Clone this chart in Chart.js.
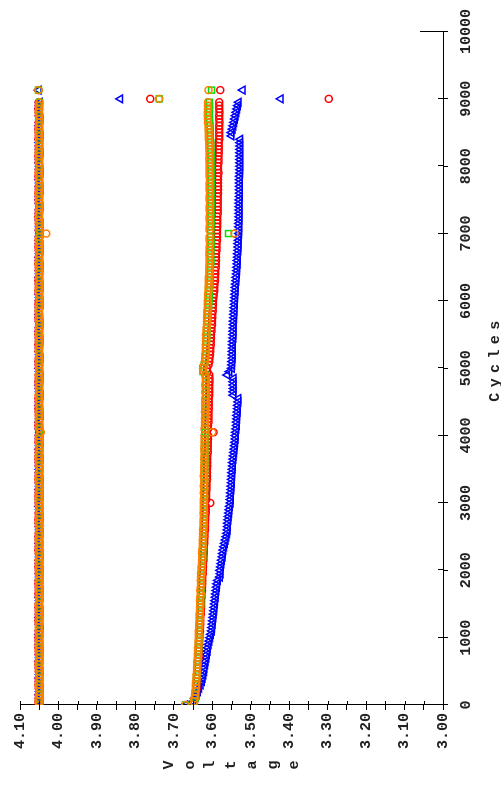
<!DOCTYPE html>
<html>
<head>
    <title>Voltage vs Cycles</title>
    <script src="https://cdn.jsdelivr.net/npm/chart.js"></script>
    <style>
        body { margin: 0; background: #fff; overflow: hidden; }
        #wrap { position: absolute; left: 0; top: 0; width: 786px; height: 501px;
                transform-origin: 0 0; transform: translate(0, 786px) rotate(-90deg); }
    </style>
</head>
<body>
<div id="wrap"><canvas id="myChart" width="786" height="501"></canvas></div>

<script>
// cycle numbers shared by all series (last one is the 9130 check)
var cycles = [
    0, 50, 100, 150, 200, 250, 300, 350, 400, 450,
    500, 550, 600, 650, 700, 750, 800, 850, 900, 950,
    1000, 1050, 1100, 1150, 1200, 1250, 1300, 1350, 1400, 1450,
    1500, 1550, 1600, 1650, 1700, 1750, 1800, 1850, 1900, 1950,
    2000, 2050, 2100, 2150, 2200, 2250, 2300, 2350, 2400, 2450,
    2500, 2550, 2600, 2650, 2700, 2750, 2800, 2850, 2900, 2950,
    3000, 3050, 3100, 3150, 3200, 3250, 3300, 3350, 3400, 3450,
    3500, 3550, 3600, 3650, 3700, 3750, 3800, 3850, 3900, 3950,
    4000, 4050, 4100, 4150, 4200, 4250, 4300, 4350, 4400, 4450,
    4500, 4550, 4600, 4650, 4700, 4750, 4800, 4850, 4900, 4950,
    5000, 5050, 5100, 5150, 5200, 5250, 5300, 5350, 5400, 5450,
    5500, 5550, 5600, 5650, 5700, 5750, 5800, 5850, 5900, 5950,
    6000, 6050, 6100, 6150, 6200, 6250, 6300, 6350, 6400, 6450,
    6500, 6550, 6600, 6650, 6700, 6750, 6800, 6850, 6900, 6950,
    7000, 7050, 7100, 7150, 7200, 7250, 7300, 7350, 7400, 7450,
    7500, 7550, 7600, 7650, 7700, 7750, 7800, 7850, 7900, 7950,
    8000, 8050, 8100, 8150, 8200, 8250, 8300, 8350, 8400, 8450,
    8500, 8550, 8600, 8650, 8700, 8750, 8800, 8850, 8900, 8950,
    9130
];

// upper (charge) voltages
var orangeTop = [
    4.050, 4.051, 4.050, 4.050, 4.049, 4.050, 4.051, 4.050, 4.049, 4.050,
    4.050, 4.050, 4.051, 4.050, 4.050, 4.049, 4.050, 4.050, 4.051, 4.050,
    4.049, 4.050, 4.050, 4.051, 4.050, 4.050, 4.049, 4.050, 4.050, 4.050,
    4.051, 4.050, 4.050, 4.049, 4.050, 4.050, 4.050, 4.051, 4.050, 4.049,
    4.050, 4.050, 4.050, 4.051, 4.050, 4.049, 4.050, 4.050, 4.050, 4.051,
    4.050, 4.049, 4.050, 4.050, 4.051, 4.050, 4.050, 4.049, 4.050, 4.050,
    4.050, 4.051, 4.050, 4.050, 4.049, 4.050, 4.050, 4.051, 4.050, 4.050,
    4.049, 4.050, 4.050, 4.050, 4.051, 4.050, 4.049, 4.050, 4.050, 4.050,
    4.050, 4.046, 4.050, 4.049, 4.050, 4.051, 4.050, 4.050, 4.049, 4.050,
    4.050, 4.050, 4.051, 4.050, 4.050, 4.049, 4.050, 4.050, 4.051, 4.050,
    4.050, 4.049, 4.050, 4.050, 4.050, 4.051, 4.050, 4.049, 4.050, 4.050,
    4.051, 4.050, 4.050, 4.049, 4.050, 4.050, 4.050, 4.051, 4.050, 4.050,
    4.049, 4.050, 4.050, 4.051, 4.050, 4.050, 4.049, 4.050, 4.050, 4.050,
    4.050, 4.051, 4.050, 4.050, 4.049, 4.050, 4.050, 4.050, 4.051, 4.050,
    4.032, 4.050, 4.049, 4.050, 4.050, 4.051, 4.050, 4.050, 4.049, 4.050,
    4.050, 4.050, 4.051, 4.050, 4.049, 4.050, 4.050, 4.050, 4.051, 4.050,
    4.049, 4.050, 4.050, 4.050, 4.051, 4.050, 4.049, 4.050, 4.050, 4.050,
    4.051, 4.050, 4.050, 4.049, 4.050, 4.050, 4.051, 4.050, 4.050, 4.049,
    4.052
];
var greenTop = [
    4.049, 4.050, 4.049, 4.048, 4.049, 4.050, 4.049, 4.049, 4.048, 4.049,
    4.050, 4.049, 4.049, 4.048, 4.049, 4.049, 4.050, 4.049, 4.048, 4.049,
    4.049, 4.048, 4.049, 4.050, 4.049, 4.049, 4.048, 4.049, 4.050, 4.049,
    4.049, 4.049, 4.048, 4.049, 4.050, 4.049, 4.049, 4.048, 4.049, 4.049,
    4.050, 4.049, 4.049, 4.048, 4.049, 4.050, 4.049, 4.049, 4.048, 4.049,
    4.049, 4.050, 4.049, 4.049, 4.048, 4.049, 4.049, 4.050, 4.049, 4.048,
    4.049, 4.049, 4.050, 4.049, 4.048, 4.049, 4.049, 4.049, 4.050, 4.049,
    4.048, 4.049, 4.049, 4.050, 4.049, 4.049, 4.048, 4.049, 4.049, 4.050,
    4.049, 4.048, 4.049, 4.049, 4.050, 4.049, 4.048, 4.049, 4.049, 4.049,
    4.050, 4.049, 4.048, 4.049, 4.049, 4.050, 4.049, 4.049, 4.048, 4.049,
    4.049, 4.050, 4.049, 4.048, 4.049, 4.049, 4.050, 4.049, 4.049, 4.048,
    4.049, 4.049, 4.050, 4.049, 4.048, 4.049, 4.049, 4.050, 4.049, 4.049,
    4.048, 4.049, 4.049, 4.050, 4.049, 4.048, 4.049, 4.049, 4.050, 4.049,
    4.049, 4.048, 4.049, 4.049, 4.050, 4.049, 4.049, 4.048, 4.049, 4.050,
    4.047, 4.049, 4.049, 4.048, 4.049, 4.050, 4.049, 4.049, 4.048, 4.049,
    4.050, 4.049, 4.049, 4.048, 4.049, 4.049, 4.050, 4.049, 4.048, 4.049,
    4.049, 4.050, 4.049, 4.049, 4.048, 4.049, 4.049, 4.050, 4.049, 4.048,
    4.049, 4.049, 4.050, 4.049, 4.048, 4.049, 4.049, 4.050, 4.049, 4.049,
    4.052
];
var redTop = [
    4.051, 4.052, 4.051, 4.051, 4.050, 4.051, 4.052, 4.051, 4.051, 4.050,
    4.051, 4.051, 4.052, 4.051, 4.050, 4.051, 4.051, 4.052, 4.051, 4.051,
    4.052, 4.051, 4.051, 4.050, 4.051, 4.052, 4.051, 4.051, 4.051, 4.052,
    4.051, 4.050, 4.051, 4.052, 4.051, 4.051, 4.052, 4.051, 4.050, 4.051,
    4.051, 4.052, 4.051, 4.051, 4.050, 4.051, 4.052, 4.051, 4.051, 4.051,
    4.052, 4.051, 4.050, 4.051, 4.051, 4.052, 4.051, 4.051, 4.050, 4.051,
    4.051, 4.051, 4.052, 4.051, 4.051, 4.050, 4.051, 4.052, 4.051, 4.051,
    4.050, 4.051, 4.051, 4.052, 4.051, 4.051, 4.051, 4.050, 4.052, 4.051,
    4.051, 4.049, 4.051, 4.052, 4.051, 4.050, 4.051, 4.051, 4.052, 4.051,
    4.051, 4.052, 4.051, 4.050, 4.051, 4.051, 4.052, 4.051, 4.051, 4.050,
    4.051, 4.051, 4.052, 4.051, 4.050, 4.051, 4.051, 4.052, 4.051, 4.051,
    4.052, 4.051, 4.051, 4.050, 4.051, 4.052, 4.051, 4.051, 4.051, 4.052,
    4.051, 4.050, 4.051, 4.052, 4.051, 4.051, 4.052, 4.051, 4.050, 4.051,
    4.051, 4.052, 4.051, 4.051, 4.050, 4.051, 4.052, 4.051, 4.051, 4.051,
    4.050, 4.051, 4.050, 4.051, 4.051, 4.052, 4.051, 4.051, 4.050, 4.051,
    4.051, 4.051, 4.052, 4.051, 4.051, 4.050, 4.051, 4.052, 4.051, 4.051,
    4.050, 4.051, 4.051, 4.052, 4.051, 4.051, 4.051, 4.050, 4.052, 4.051,
    4.051, 4.052, 4.051, 4.051, 4.050, 4.051, 4.051, 4.052, 4.051, 4.051,
    4.052
];
var blueTop = [
    4.048, 4.047, 4.048, 4.049, 4.048, 4.047, 4.048, 4.048, 4.049, 4.048,
    4.047, 4.048, 4.048, 4.049, 4.048, 4.048, 4.047, 4.048, 4.049, 4.048,
    4.048, 4.049, 4.048, 4.047, 4.048, 4.048, 4.049, 4.048, 4.047, 4.048,
    4.048, 4.048, 4.049, 4.048, 4.047, 4.048, 4.048, 4.049, 4.048, 4.048,
    4.047, 4.048, 4.048, 4.049, 4.048, 4.047, 4.048, 4.048, 4.049, 4.048,
    4.048, 4.047, 4.048, 4.048, 4.049, 4.048, 4.047, 4.048, 4.048, 4.049,
    4.048, 4.048, 4.047, 4.048, 4.049, 4.048, 4.048, 4.047, 4.048, 4.048,
    4.049, 4.048, 4.048, 4.047, 4.048, 4.048, 4.049, 4.048, 4.047, 4.048,
    4.048, 4.047, 4.048, 4.048, 4.049, 4.048, 4.047, 4.048, 4.048, 4.049,
    4.048, 4.048, 4.047, 4.048, 4.048, 4.049, 4.048, 4.047, 4.048, 4.048,
    4.049, 4.048, 4.048, 4.047, 4.048, 4.049, 4.048, 4.048, 4.047, 4.048,
    4.048, 4.049, 4.048, 4.047, 4.048, 4.048, 4.049, 4.048, 4.048, 4.047,
    4.048, 4.048, 4.049, 4.048, 4.047, 4.048, 4.048, 4.049, 4.048, 4.048,
    4.047, 4.048, 4.048, 4.049, 4.048, 4.047, 4.048, 4.048, 4.049, 4.048,
    4.047, 4.048, 4.048, 4.047, 4.048, 4.049, 4.048, 4.048, 4.047, 4.048,
    4.049, 4.048, 4.048, 4.047, 4.048, 4.048, 4.049, 4.048, 4.047, 4.048,
    4.048, 4.049, 4.048, 4.048, 4.047, 4.048, 4.048, 4.049, 4.048, 4.047,
    4.048, 4.048, 4.049, 4.048, 4.047, 4.048, 4.048, 4.049, 4.048, 4.048,
    4.051
];

// lower (discharge) voltages
var orangeBottom = [
    3.670, 3.648, 3.646, 3.645, 3.644, 3.643, 3.643, 3.642, 3.641, 3.641,
    3.640, 3.640, 3.639, 3.639, 3.638, 3.638, 3.637, 3.637, 3.636, 3.636,
    3.635, 3.635, 3.635, 3.634, 3.634, 3.633, 3.633, 3.633, 3.632, 3.632,
    3.631, 3.632, 3.631, 3.630, 3.631, 3.630, 3.629, 3.630, 3.629, 3.629,
    3.628, 3.628, 3.627, 3.627, 3.626, 3.627, 3.626, 3.625, 3.625, 3.625,
    3.624, 3.624, 3.624, 3.623, 3.623, 3.623, 3.622, 3.623, 3.622, 3.622,
    3.622, 3.622, 3.621, 3.622, 3.621, 3.622, 3.621, 3.621, 3.622, 3.621,
    3.621, 3.621, 3.620, 3.621, 3.620, 3.620, 3.621, 3.620, 3.620, 3.620,
    3.620, 3.600, 3.620, 3.619, 3.619, 3.619, 3.618, 3.619, 3.618, 3.618,
    3.618, 3.618, 3.617, 3.618, 3.617, 3.618, 3.617, 3.617, 3.618, 3.623,
    3.624, 3.621, 3.619, 3.618, 3.618, 3.617, 3.617, 3.617, 3.616, 3.616,
    3.616, 3.615, 3.615, 3.614, 3.614, 3.614, 3.613, 3.613, 3.612, 3.612,
    3.612, 3.611, 3.611, 3.610, 3.610, 3.609, 3.609, 3.609, 3.608, 3.608,
    3.608, 3.607, 3.607, 3.607, 3.608, 3.607, 3.607, 3.606, 3.607, 3.607,
    3.542, 3.607, 3.607, 3.606, 3.607, 3.607, 3.606, 3.607, 3.607, 3.606,
    3.607, 3.607, 3.606, 3.607, 3.607, 3.607, 3.606, 3.607, 3.607, 3.607,
    3.607, 3.607, 3.608, 3.607, 3.607, 3.608, 3.608, 3.608, 3.609, 3.609,
    3.609, 3.610, 3.610, 3.611, 3.611, 3.612, 3.612, 3.611, 3.611, 3.611,
    3.610
];
var greenBottom = [
    3.670, 3.647, 3.645, 3.644, 3.643, 3.643, 3.642, 3.641, 3.641, 3.640,
    3.639, 3.639, 3.638, 3.638, 3.637, 3.637, 3.636, 3.636, 3.636, 3.635,
    3.634, 3.634, 3.634, 3.633, 3.633, 3.632, 3.632, 3.632, 3.631, 3.631,
    3.630, 3.631, 3.630, 3.629, 3.630, 3.629, 3.628, 3.629, 3.628, 3.628,
    3.627, 3.627, 3.626, 3.626, 3.625, 3.626, 3.625, 3.624, 3.624, 3.624,
    3.623, 3.623, 3.623, 3.622, 3.622, 3.622, 3.621, 3.622, 3.621, 3.621,
    3.621, 3.621, 3.620, 3.621, 3.620, 3.621, 3.620, 3.620, 3.621, 3.620,
    3.620, 3.620, 3.619, 3.620, 3.619, 3.619, 3.620, 3.619, 3.619, 3.619,
    3.619, 3.618, 3.619, 3.618, 3.618, 3.618, 3.617, 3.618, 3.617, 3.617,
    3.617, 3.617, 3.616, 3.617, 3.616, 3.617, 3.616, 3.616, 3.618, 3.624,
    3.625, 3.621, 3.619, 3.618, 3.617, 3.617, 3.616, 3.616, 3.615, 3.615,
    3.614, 3.614, 3.613, 3.613, 3.612, 3.612, 3.611, 3.611, 3.610, 3.610,
    3.609, 3.608, 3.608, 3.607, 3.607, 3.606, 3.606, 3.605, 3.605, 3.605,
    3.605, 3.604, 3.604, 3.604, 3.605, 3.604, 3.604, 3.603, 3.604, 3.604,
    3.558, 3.604, 3.604, 3.603, 3.604, 3.604, 3.603, 3.604, 3.604, 3.603,
    3.604, 3.604, 3.603, 3.604, 3.604, 3.603, 3.603, 3.604, 3.604, 3.603,
    3.604, 3.604, 3.604, 3.603, 3.604, 3.604, 3.605, 3.604, 3.605, 3.605,
    3.605, 3.606, 3.606, 3.607, 3.607, 3.608, 3.608, 3.607, 3.607, 3.608,
    3.602
];
var redBottom = [
    3.670, 3.647, 3.645, 3.643, 3.642, 3.641, 3.641, 3.640, 3.639, 3.639,
    3.638, 3.638, 3.637, 3.637, 3.636, 3.636, 3.635, 3.635, 3.634, 3.634,
    3.633, 3.633, 3.632, 3.632, 3.631, 3.631, 3.631, 3.630, 3.630, 3.629,
    3.629, 3.629, 3.628, 3.628, 3.627, 3.627, 3.626, 3.626, 3.626, 3.625,
    3.625, 3.624, 3.624, 3.623, 3.623, 3.622, 3.622, 3.622, 3.621, 3.621,
    3.620, 3.620, 3.619, 3.619, 3.619, 3.618, 3.618, 3.617, 3.617, 3.617,
    3.605, 3.616, 3.616, 3.616, 3.615, 3.615, 3.615, 3.614, 3.614, 3.614,
    3.614, 3.613, 3.613, 3.613, 3.613, 3.612, 3.612, 3.612, 3.612, 3.611,
    3.611, 3.597, 3.611, 3.611, 3.610, 3.610, 3.610, 3.610, 3.609, 3.609,
    3.609, 3.609, 3.608, 3.608, 3.608, 3.608, 3.607, 3.607, 3.608, 3.613,
    3.614, 3.610, 3.608, 3.607, 3.606, 3.605, 3.605, 3.604, 3.604, 3.603,
    3.603, 3.602, 3.602, 3.601, 3.601, 3.600, 3.600, 3.599, 3.599, 3.598,
    3.598, 3.597, 3.596, 3.595, 3.595, 3.594, 3.593, 3.593, 3.592, 3.592,
    3.591, 3.591, 3.590, 3.590, 3.590, 3.589, 3.589, 3.589, 3.588, 3.588,
    3.588, 3.588, 3.587, 3.587, 3.587, 3.587, 3.586, 3.586, 3.586, 3.586,
    3.586, 3.586, 3.585, 3.585, 3.585, 3.585, 3.585, 3.585, 3.584, 3.585,
    3.585, 3.584, 3.584, 3.584, 3.583, 3.583, 3.583, 3.583, 3.582, 3.582,
    3.582, 3.582, 3.582, 3.581, 3.582, 3.582, 3.581, 3.582, 3.582, 3.582,
    3.579
];
var blueBottom = [
    3.670, 3.650, 3.645, 3.641, 3.637, 3.634, 3.630, 3.627, 3.625, 3.623,
    3.621, 3.620, 3.618, 3.617, 3.615, 3.614, 3.612, 3.611, 3.609, 3.607,
    3.605, 3.603, 3.601, 3.600, 3.599, 3.598, 3.597, 3.596, 3.595, 3.594,
    3.593, 3.592, 3.591, 3.590, 3.589, 3.588, 3.587, 3.585, 3.580, 3.578,
    3.579, 3.577, 3.576, 3.575, 3.573, 3.572, 3.571, 3.569, 3.567, 3.565,
    3.563, 3.561, 3.560, 3.559, 3.559, 3.558, 3.557, 3.556, 3.555, 3.554,
    3.552, 3.552, 3.551, 3.551, 3.550, 3.550, 3.549, 3.549, 3.548, 3.548,
    3.547, 3.546, 3.546, 3.545, 3.544, 3.543, 3.542, 3.541, 3.540, 3.539,
    3.539, 3.538, 3.537, 3.536, 3.536, 3.535, 3.535, 3.534, 3.533, 3.533,
    3.532, 3.532, 3.545, 3.545, 3.544, 3.545, 3.545, 3.544, 3.561, 3.555,
    3.549, 3.548, 3.548, 3.547, 3.547, 3.547, 3.546, 3.546, 3.546, 3.545,
    3.545, 3.545, 3.544, 3.544, 3.544, 3.543, 3.543, 3.542, 3.542, 3.541,
    3.541, 3.540, 3.540, 3.539, 3.539, 3.538, 3.537, 3.537, 3.536, 3.535,
    3.535, 3.534, 3.534, 3.533, 3.533, 3.532, 3.532, 3.532, 3.531, 3.531,
    3.530, 3.530, 3.530, 3.530, 3.529, 3.529, 3.529, 3.529, 3.529, 3.529,
    3.529, 3.528, 3.528, 3.528, 3.528, 3.528, 3.528, 3.528, 3.527, 3.527,
    3.527, 3.527, 3.527, 3.527, 3.527, 3.527, 3.527, 3.527, 3.527, 3.550,
    3.550, 3.547, 3.545, 3.543, 3.541, 3.539, 3.537, 3.535, 3.533, 3.531,
    3.521
];

// stray readings taken at cycle 9000
var spotCycle = 9000;
var spotBlue = [3.839, 3.422];
var spotRed = [3.761, 3.297];
var spotGreen = [3.738];
var spotOrange = [3.738];

// axis ticks
var cycleTicks = [0, 1000, 2000, 3000, 4000, 5000, 6000, 7000, 8000, 9000, 10000];
var voltTicks = [3.00, 3.05, 3.10, 3.15, 3.20, 3.25, 3.30, 3.35, 3.40, 3.45, 3.50, 3.55,
                 3.60, 3.65, 3.70, 3.75, 3.80, 3.85, 3.90, 3.95, 4.00, 4.05, 4.10];
var voltLabels = ['3.00', '', '3.10', '', '3.20', '', '3.30', '', '3.40', '', '3.50', '',
                  '3.60', '', '3.70', '', '3.80', '', '3.90', '', '4.00', '', '4.10'];

function pts(top, bottom, spots) {
    var out = [];
    for (var i = 0; i < cycles.length; i++) {
        out.push({x: cycles[i], y: top[i]});
        out.push({x: cycles[i], y: bottom[i]});
    }
    spots.forEach(function (v) { out.push({x: spotCycle, y: v}); });
    return out;
}

function series(label, color, style, r, data) {
    return {
        label: label, data: data, showLine: false,
        pointStyle: style, pointRadius: r, pointBorderWidth: 1.5,
        borderColor: color, backgroundColor: 'rgba(0,0,0,0)',
        pointBackgroundColor: 'rgba(0,0,0,0)'
    };
}

var tickFont = {family: '"Liberation Mono", monospace', size: 15, weight: 'bold'};

var decor = {
    id: 'decor',
    afterDraw: function (chart) {
        var ctx = chart.ctx, xs = chart.scales.x, ys = chart.scales.y;
        ctx.save();
        ctx.strokeStyle = '#000';
        ctx.lineWidth = 1;
        ctx.beginPath();
        voltTicks.forEach(function (v) {
            var p = Math.round(ys.getPixelForValue(v)) + 0.5;
            ctx.moveTo(xs.left, p); ctx.lineTo(xs.left + 4, p);
        });
        cycleTicks.forEach(function (c) {
            var p = Math.round(xs.getPixelForValue(c)) + 0.5;
            ctx.moveTo(p, ys.bottom); ctx.lineTo(p, ys.bottom - 5);
        });
        var pEnd = Math.round(xs.getPixelForValue(10000)) + 0.5;
        ctx.moveTo(pEnd, ys.bottom); ctx.lineTo(pEnd, ys.bottom - 23);
        ctx.stroke();

        ctx.fillStyle = '#222';
        ctx.font = 'bold 15px "Liberation Mono", monospace';
        ctx.textAlign = 'center';
        ctx.textBaseline = 'middle';
        var vt = 'Voltage'.split('');
        var mid = (ys.top + ys.bottom) / 2;
        vt.forEach(function (ch, i) { ctx.fillText(ch, 21, mid + (i - 3) * 20.8); });
        var ct = 'Cycles'.split('');
        var cmid = (xs.left + xs.right) / 2 + 7;
        ct.forEach(function (ch, i) { ctx.fillText(ch, cmid + (i - 2.5) * 14.4, 495); });
        ctx.restore();
    }
};

var ctx = document.getElementById('myChart').getContext('2d');
var myChart = new Chart(ctx, {
    type: 'scatter',
    data: {
        datasets: [
            series('Orange', '#ff8000', 'circle', 3.5, pts(orangeTop, orangeBottom, spotOrange)),
            series('Green', '#00e000', 'rect', 4.2, pts(greenTop, greenBottom, spotGreen)),
            series('Red', '#ff0000', 'circle', 3.5, pts(redTop, redBottom, spotRed)),
            series('Blue', '#0000ff', 'triangle', 4.5, pts(blueTop, blueBottom, spotBlue))
        ]
    },
    options: {
        responsive: false,
        animation: false,
        devicePixelRatio: 1,
        layout: {padding: {left: 0, top: 20, right: 31, bottom: 0}},
        plugins: {legend: {display: false}, tooltip: {enabled: false}},
        scales: {
            x: {
                type: 'linear', position: 'bottom', min: 0, max: 10000,
                afterFit: function (s) { s.height = 58; },
                afterBuildTicks: function (s) { s.ticks = cycleTicks.map(function (v) { return {value: v}; }); },
                ticks: {font: tickFont, color: '#222', padding: 9, maxRotation: 0,
                        autoSkip: false, callback: function (v) { return String(v); }},
                grid: {drawOnChartArea: false, color: '#000', tickLength: 5},
                border: {color: '#000', width: 1}
            },
            y: {
                type: 'linear', min: 3.0, max: 4.1,
                afterFit: function (s) { s.width = 81; },
                afterBuildTicks: function (s) { s.ticks = voltTicks.map(function (v) { return {value: v}; }); },
                ticks: {font: tickFont, color: '#222', padding: 3, autoSkip: false,
                        callback: function (v, i) { return voltLabels[i]; }},
                grid: {drawOnChartArea: false, color: '#000', tickLength: 5},
                border: {color: '#000', width: 1}
            }
        }
    },
    plugins: [decor]
});
</script>
</body>
</html>
